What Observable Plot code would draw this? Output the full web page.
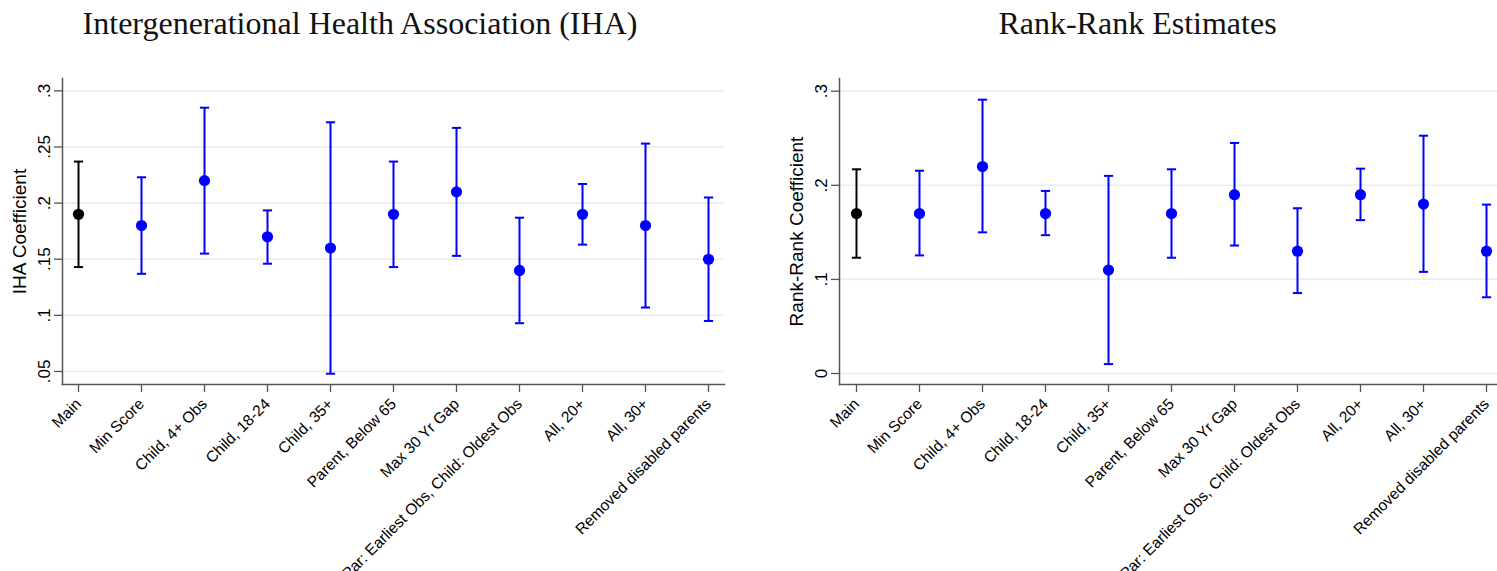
<!DOCTYPE html>
<html>
<head>
<meta charset="utf-8">
<script src="https://cdn.jsdelivr.net/npm/d3@7"></script>
<script src="https://cdn.jsdelivr.net/npm/@observablehq/plot@0.6"></script>
<style>
  html, body { margin: 0; padding: 0; background: #fff; overflow: hidden; }
  #wrap { position: relative; width: 1497px; height: 571px; }
  .title { position: absolute; top: 7px; font-family: "Liberation Serif", serif; font-size: 32px; line-height: 32px; color: #111; text-align: center; white-space: nowrap; }
  .panel { position: absolute; top: 60px; }
</style>
</head>
<body>
<div id="wrap">
  <div class="title" style="left:0px;width:720px;">Intergenerational Health Association (IHA)</div>
  <div class="title" style="left:778px;width:719px;">Rank-Rank Estimates</div>
  <div class="panel" id="left" style="left:0px;"></div>
  <div class="panel" id="right" style="left:749px;"></div>
</div>
<script>
const labels = ["Main", "Min Score", "Child, 4+ Obs", "Child, 18-24", "Child, 35+", "Parent, Below 65", "Max 30 Yr Gap", "Par: Earliest Obs, Child: Oldest Obs", "All, 20+", "All, 30+", "Removed disabled parents"];

const ihaEst = [0.19, 0.18, 0.22, 0.17, 0.16, 0.19, 0.21, 0.14, 0.19, 0.18, 0.15];
const ihaLo  = [0.143, 0.137, 0.155, 0.146, 0.048, 0.143, 0.153, 0.093, 0.163, 0.107, 0.095];
const ihaHi  = [0.237, 0.223, 0.285, 0.1935, 0.272, 0.237, 0.267, 0.187, 0.217, 0.253, 0.205];

const rrEst = [0.17, 0.17, 0.22, 0.17, 0.11, 0.17, 0.19, 0.13, 0.19, 0.18, 0.13];
const rrLo  = [0.123, 0.1255, 0.15, 0.147, 0.01, 0.123, 0.136, 0.0855, 0.163, 0.108, 0.081];
const rrHi  = [0.217, 0.2155, 0.291, 0.194, 0.21, 0.217, 0.245, 0.1756, 0.2177, 0.2527, 0.1795];

const ihaTicks = [0.05, 0.1, 0.15, 0.2, 0.25, 0.3];
const ihaTickLabels = [".05", ".1", ".15", ".2", ".25", ".3"];
const rrTicks = [0, 0.1, 0.2, 0.3];
const rrTickLabels = ["0", ".1", ".2", ".3"];

const capSymbol = {
  draw(ctx, size) {
    const w = Math.sqrt(size / Math.PI);
    ctx.moveTo(-w, 0);
    ctx.lineTo(w, 0);
  }
};

function makeChart(opts) {
  const data = labels.map((label, i) => ({label, est: opts.est[i], lo: opts.lo[i], hi: opts.hi[i]}));
  const color = d => d.label === "Main" ? "#000000" : "#0000ff";
  const fmt = d => opts.tickLabels[opts.ticks.indexOf(d)];
  return Plot.plot({
    width: opts.width,
    height: 511,
    marginTop: 18,
    marginBottom: 187,
    marginLeft: opts.marginLeft,
    marginRight: opts.marginRight,
    style: {background: "#fff", fontFamily: "'Liberation Sans', Arial, sans-serif", color: "#000", overflow: "visible"},
    x: {type: "point", domain: labels, padding: opts.padding, align: opts.align},
    y: {domain: opts.domain},
    marks: [
      Plot.gridY(opts.ticks, {stroke: "#e6eef0", strokeOpacity: 1, strokeWidth: 1.6}),
      Plot.frame({anchor: "left", stroke: "#555", strokeWidth: 1.5}),
      Plot.frame({anchor: "bottom", stroke: "#555", strokeWidth: 1.5}),
      Plot.axisY({ticks: opts.ticks, tickFormat: fmt, tickRotate: -90, textAnchor: "middle", lineAnchor: "bottom",
        tickSize: 8, tickPadding: 5, fontSize: 17, stroke: "#555", strokeWidth: 1.3, label: null}),
      Plot.axisY({ticks: [], label: opts.ylabel, labelAnchor: "center", labelOffset: opts.labelOffset, fontSize: 19, labelArrow: "none"}),
      Plot.axisX({tickRotate: -45, textAnchor: "end", lineAnchor: "middle", tickSize: 8, tickPadding: 9,
        fontSize: 15.5, stroke: "#555", strokeWidth: 1.3, label: null}),
      Plot.ruleX(data, {x: "label", y1: "lo", y2: "hi", stroke: color, strokeWidth: 2}),
      Plot.dot(data, {x: "label", y: "lo", symbol: capSymbol, r: 4.6, stroke: color, fill: "none", strokeWidth: 2}),
      Plot.dot(data, {x: "label", y: "hi", symbol: capSymbol, r: 4.6, stroke: color, fill: "none", strokeWidth: 2}),
      Plot.dot(data, {x: "label", y: "est", r: 5.6, fill: color, stroke: "none"})
    ]
  });
}

document.getElementById("left").appendChild(makeChart({
  est: ihaEst, lo: ihaLo, hi: ihaHi, ticks: ihaTicks, tickLabels: ihaTickLabels,
  domain: [0.0384, 0.311], width: 748, marginLeft: 62, marginRight: 24, padding: 0.188, align: 0.5,
  ylabel: "IHA Coefficient", labelOffset: 50
}));

document.getElementById("right").appendChild(makeChart({
  est: rrEst, lo: rrLo, hi: rrHi, ticks: rrTicks, tickLabels: rrTickLabels,
  domain: [-0.0117, 0.3135], width: 748, marginLeft: 90, marginRight: 0, padding: 0.157, align: 0.6,
  ylabel: "Rank-Rank Coefficient", labelOffset: 50
}));
</script>
</body>
</html>
